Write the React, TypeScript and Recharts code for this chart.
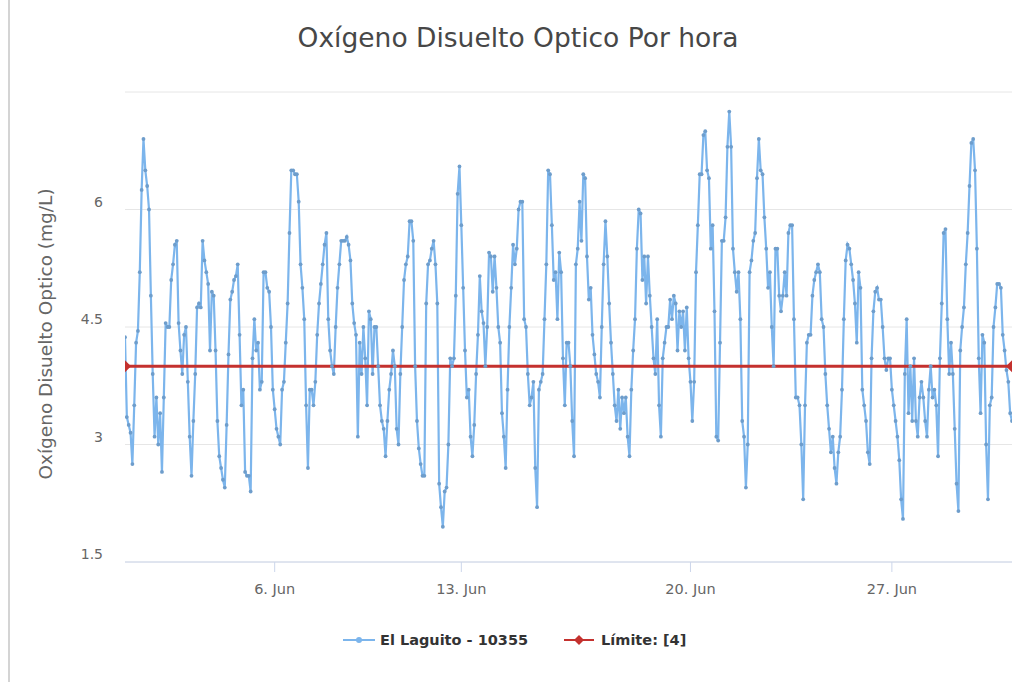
import { ComposedChart, Line, XAxis, YAxis, CartesianGrid } from "recharts"

// readings every 1.5 h from 1 Jun 00:00 (one row per day), on an ordinal axis
const oxigeno = [
  4.37, 3.35, 3.25, 3.15, 2.75, 3.5, 4.3, 4.45, 5.2, 6.25, 6.9, 6.5, 6.3, 6.0, 4.9, 3.9,
  3.1, 3.6, 3.0, 3.4, 2.65, 3.6, 4.55, 4.5, 4.5, 5.1, 5.3, 5.55, 5.6, 4.55, 4.2, 3.9,
  4.4, 4.5, 3.8, 3.1, 2.6, 3.3, 3.9, 4.75, 4.8, 4.75, 5.6, 5.35, 5.2, 5.05, 4.2, 4.95,
  4.9, 4.2, 3.3, 2.85, 2.7, 2.55, 2.45, 3.25, 4.15, 4.85, 4.95, 5.1, 5.15, 5.3, 4.4, 3.5,
  3.7, 2.65, 2.6, 2.6, 2.4, 4.1, 4.6, 4.2, 4.3, 3.7, 3.8, 5.2, 5.2, 5.0, 4.95, 4.5,
  3.7, 3.45, 3.2, 3.1, 3.0, 3.7, 3.8, 4.3, 4.8, 5.7, 6.5, 6.5, 6.45, 6.45, 6.1, 5.3,
  5.0, 4.6, 3.5, 2.7, 3.7, 3.7, 3.5, 3.8, 4.4, 4.8, 5.05, 5.3, 5.55, 5.7, 4.6, 4.2,
  4.0, 3.9, 4.5, 5.0, 5.3, 5.6, 5.6, 5.6, 5.65, 5.55, 5.35, 4.8, 4.55, 4.4, 3.1, 4.3,
  3.9, 4.5, 4.1, 3.5, 4.7, 4.6, 3.9, 4.5, 4.5, 4.0, 3.5, 3.3, 3.2, 2.85, 3.3, 3.7,
  3.9, 4.2, 4.0, 3.2, 3.0, 3.9, 4.5, 5.1, 5.3, 5.4, 5.85, 5.85, 5.6, 4.0, 3.3, 2.95,
  2.75, 2.6, 2.6, 4.8, 5.3, 5.35, 5.5, 5.6, 5.3, 4.8, 2.5, 2.2, 1.95, 2.4, 2.45, 3.0,
  4.1, 4.0, 4.1, 4.9, 6.2, 6.55, 5.8, 5.0, 4.2, 3.6, 3.7, 3.1, 2.85, 3.25, 3.9, 4.4,
  5.15, 4.7, 4.55, 4.0, 4.5, 5.45, 5.4, 4.95, 5.4, 5.0, 4.5, 4.3, 3.4, 3.1, 2.7, 3.7,
  4.5, 5.0, 5.55, 5.3, 5.5, 6.0, 6.1, 6.1, 4.6, 4.5, 3.9, 3.5, 3.6, 3.8, 2.7, 2.2,
  3.7, 3.8, 3.9, 4.6, 5.3, 6.5, 6.45, 5.8, 5.1, 5.2, 4.6, 5.45, 5.2, 4.1, 3.5, 4.3,
  4.3, 4.0, 3.3, 2.85, 5.3, 5.5, 6.1, 5.6, 6.45, 6.4, 5.4, 4.85, 5.0, 4.4, 4.15, 3.9,
  3.8, 3.6, 4.5, 5.3, 5.85, 5.4, 4.8, 4.3, 3.9, 3.5, 3.3, 3.7, 3.2, 3.6, 3.4, 3.6,
  3.1, 2.85, 3.7, 4.2, 4.6, 5.5, 6.0, 5.95, 5.1, 5.4, 4.8, 5.4, 4.9, 4.5, 4.1, 3.9,
  4.6, 3.5, 3.1, 4.1, 4.3, 4.5, 4.5, 4.85, 4.6, 4.9, 4.8, 4.2, 4.7, 4.5, 4.7, 4.2,
  4.75, 4.1, 3.8, 3.3, 3.8, 5.2, 5.8, 6.45, 6.45, 6.95, 7.0, 6.5, 6.4, 5.5, 5.8, 4.7,
  3.1, 3.05, 4.3, 5.6, 5.6, 5.9, 6.8, 7.25, 6.8, 5.5, 5.2, 4.95, 5.2, 4.6, 3.3, 3.1,
  2.45, 3.0, 5.2, 5.35, 5.6, 5.7, 6.4, 6.9, 6.5, 6.45, 5.9, 5.5, 5.0, 5.2, 4.5, 4.0,
  5.5, 5.5, 4.9, 4.7, 4.9, 5.2, 4.9, 5.7, 5.8, 5.8, 4.6, 3.6, 3.6, 3.5, 3.0, 2.3,
  3.5, 4.3, 4.4, 4.4, 4.9, 5.1, 5.2, 5.3, 5.2, 4.6, 4.5, 3.9, 3.5, 3.2, 2.9, 3.1,
  2.7, 2.5, 2.9, 3.1, 3.7, 4.6, 5.35, 5.55, 5.5, 5.3, 5.1, 4.8, 4.3, 5.2, 5.0, 3.7,
  3.5, 3.3, 2.9, 2.75, 4.1, 4.7, 4.95, 5.0, 4.85, 4.85, 4.5, 4.1, 3.95, 4.1, 4.1, 3.7,
  3.5, 3.3, 3.1, 2.8, 2.3, 2.05, 3.9, 4.6, 3.4, 4.0, 3.3, 4.1, 3.3, 3.1, 3.6, 3.8,
  3.6, 3.3, 3.1, 3.7, 4.0, 3.6, 3.7, 3.5, 2.85, 4.1, 4.8, 5.7, 5.75, 4.6, 3.9, 4.3,
  3.9, 3.2, 2.5, 2.15, 4.2, 4.5, 4.75, 5.3, 5.7, 6.3, 6.85, 6.9, 6.5, 5.5, 4.1, 3.4,
  4.4, 4.3, 3.0, 2.3, 3.5, 3.6, 4.5, 4.75, 5.05, 5.05, 5.0, 4.4, 4.2, 3.95, 3.8, 3.4,
  3.3,
]
const limite = 4
// ordinal positions (sample index) where the labelled dates fall
const tickIndex = [81, 182, 306, 415]
const tickLabels = ["6. Jun", "13. Jun", "20. Jun", "27. Jun"]
const yTicks = [1.5, 3, 4.5, 6, 7.5]

const data = oxigeno.map((v, i) => ({ idx: i, oxigeno: v }))
const lastIdx = oxigeno.length - 1
const limitData = [
  { idx: 0, limite },
  { idx: lastIdx, limite },
]

const BLUE = "#7cb5ec"
const RED = "#c4312e"
const FONT = "'DejaVu Sans', sans-serif"

function Diamond(props: any) {
  const { cx, cy } = props
  if (cx == null || cy == null) return null
  return <path d={`M${cx} ${cy - 6} L${cx + 6} ${cy} L${cx} ${cy + 6} L${cx - 6} ${cy} Z`} fill={RED} />
}

function SmallDot(props: any) {
  const { cx, cy } = props
  if (cx == null || cy == null) return null
  return <circle cx={cx} cy={cy} r={1.9} fill="#6e9dcb" />
}

function YTick(props: any) {
  const { y, payload } = props
  if (payload.value === 7.5) return null
  return (
    <text x={103} y={y - 7} textAnchor="end" dominantBaseline="middle" fill="#666" fontSize={14} fontFamily={FONT}>
      {payload.value}
    </text>
  )
}

function XTick(props: any) {
  const { x, y, payload } = props
  const label = tickLabels[tickIndex.indexOf(payload.value)]
  return (
    <text x={x} y={y + 16} textAnchor="middle" dominantBaseline="middle" fill="#666" fontSize={14.5} fontFamily={FONT}>
      {label}
    </text>
  )
}

export default function App() {
  return (
    <div style={{ position: "absolute", left: 0, top: 0, width: 1016, height: 682, background: "#fff", fontFamily: FONT }}>
      <div style={{ position: "absolute", left: 8, top: 0, width: 2, height: 682, background: "#d4d4d4" }} />
      <div style={{ position: "absolute", left: 0, width: 1036, top: 22, textAlign: "center", fontSize: 26.5, color: "#474747" }}>
        Oxígeno Disuelto Optico Por hora
      </div>
      <div
        style={{
          position: "absolute",
          left: 45,
          top: 334,
          transform: "translate(-50%, -50%) rotate(-90deg)",
          whiteSpace: "nowrap",
          fontSize: 18.5,
          color: "#666",
        }}
      >
        Oxígeno Disuelto Optico (mg/L)
      </div>
      <ComposedChart width={1016} height={682} margin={{ top: 92, right: 4, bottom: 80, left: 0 }}>
        <CartesianGrid vertical={false} stroke="#e6e6e6" />
        <XAxis
          type="number"
          dataKey="idx"
          domain={[0, lastIdx]}
          ticks={tickIndex}
          allowDataOverflow
          height={40}
          stroke="#ccd6eb"
          tickSize={10}
          tick={<XTick />}
        />
        <YAxis
          type="number"
          domain={[1.5, 7.5]}
          ticks={yTicks}
          width={125}
          axisLine={false}
          tickLine={false}
          tick={<YTick />}
          allowDataOverflow
        />
        <Line
          data={data}
          dataKey="oxigeno"
          stroke={BLUE}
          strokeWidth={2.2}
          dot={<SmallDot />}
          isAnimationActive={false}
        />
        <Line
          data={limitData}
          dataKey="limite"
          stroke={RED}
          strokeWidth={3}
          dot={<Diamond />}
          isAnimationActive={false}
        />
      </ComposedChart>
      <div style={{ position: "absolute", top: 632, left: 343, display: "flex", alignItems: "center", fontSize: 14.5, fontWeight: "bold", color: "#333", whiteSpace: "nowrap" }}>
        <svg width={32} height={12} style={{ marginRight: 5 }}>
          <line x1={0} y1={6} x2={32} y2={6} stroke={BLUE} strokeWidth={2} />
          <circle cx={16} cy={6} r={3} fill={BLUE} />
        </svg>
        <span style={{ marginRight: 36 }}>El Laguito - 10355</span>
        <svg width={30} height={14} style={{ marginRight: 7 }}>
          <line x1={0} y1={7} x2={30} y2={7} stroke={RED} strokeWidth={2} />
          <path d="M15 2 L20 7 L15 12 L10 7 Z" fill={RED} />
        </svg>
        <span>Límite: [4]</span>
      </div>
    </div>
  )
}
